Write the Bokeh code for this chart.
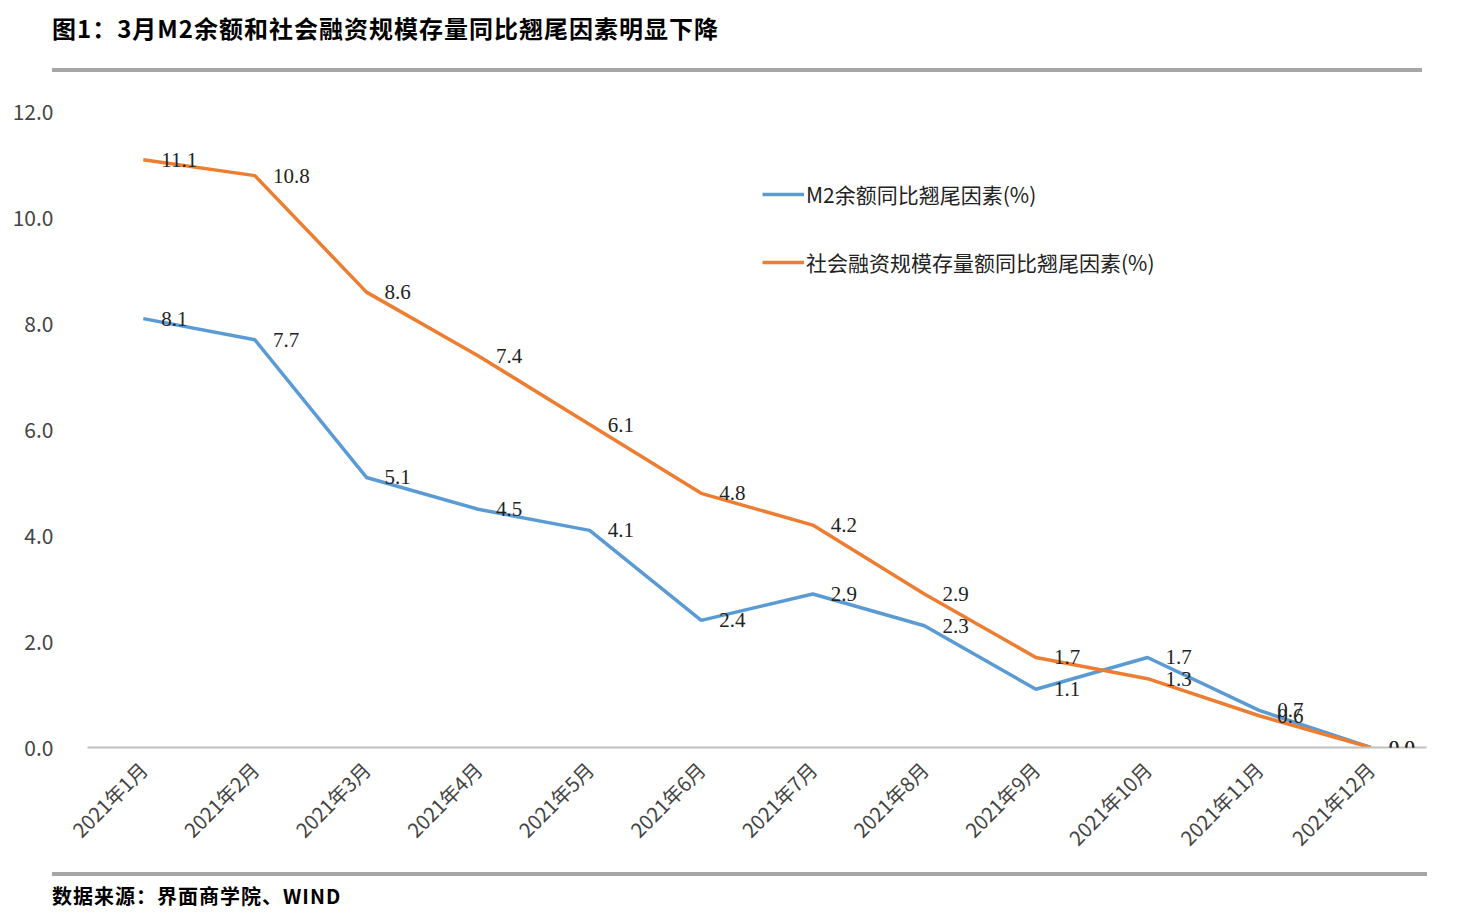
from bokeh.plotting import figure
from bokeh.models import Div, Legend, LegendItem, FixedTicker, CustomJSTickFormatter, ColumnDataSource, LabelSet
from bokeh.layouts import column
from bokeh.embed import file_html
from bokeh.resources import INLINE
import math

months = [f"2021年{i}月" for i in range(1, 13)]
m2 = [8.1, 7.7, 5.1, 4.5, 4.1, 2.4, 2.9, 2.3, 1.1, 1.7, 0.7, 0.0]
tsf = [11.1, 10.8, 8.6, 7.4, 6.1, 4.8, 4.2, 2.9, 1.7, 1.3, 0.6, 0.0]
m2_name = "M2余额同比翘尾因素(%)"
tsf_name = "社会融资规模存量额同比翘尾因素(%)"
FONT = "Noto Sans CJK SC"
BLUE = "#5B9BD5"
ORANGE = "#ED7D31"

title = Div(text="图1：3月M2余额和社会融资规模存量同比翘尾因素明显下降", width=1452, height=67,
            styles={"font-family": FONT, "font-size": "24px", "font-weight": "bold", "color": "#000",
                    "padding": "6px 0 0 0", "box-sizing": "border-box", "letter-spacing": "1px",
                    "border-bottom": "4px solid #A6A6A6", "width": "1370px", "margin-left": "52px"})

p = figure(x_range=months, y_range=(0, 12.2), width=1452, height=790,
           output_backend="svg", toolbar_location=None,
           min_border_left=87, min_border_right=26, min_border_top=24, min_border_bottom=120)
p.outline_line_color = None
p.xgrid.visible = False
p.ygrid.visible = False

r1 = p.line(months, m2, line_color=BLUE, line_width=3.5)
r2 = p.line(months, tsf, line_color=ORANGE, line_width=3.5)
for vals in (m2, tsf):
    src = ColumnDataSource(dict(x=months, y=vals, t=[f"{v:.1f}" for v in vals]))
    p.add_layout(LabelSet(x="x", y="y", text="t", source=src, x_offset=18, text_baseline="middle",
                          text_align="left", text_font=FONT, text_font_size="21px",
                          text_color="#222"))

p.yaxis.ticker = FixedTicker(ticks=[0, 2, 4, 6, 8, 10, 12])
p.yaxis.formatter = CustomJSTickFormatter(code="return tick.toFixed(1);")
p.yaxis.axis_line_color = None
p.yaxis.major_tick_line_color = None
p.yaxis.minor_tick_line_color = None
p.yaxis.major_label_text_font = FONT
p.yaxis.major_label_text_font_size = "21px"
p.yaxis.major_label_text_color = "#444"
p.yaxis.major_label_standoff = 28

p.xaxis.axis_line_color = "#BFBFBF"
p.xaxis.axis_line_width = 2
p.xaxis.major_tick_line_color = None
p.xaxis.major_label_orientation = math.pi / 4
p.xaxis.major_label_text_font = FONT
p.xaxis.major_label_text_font_size = "20px"
p.xaxis.major_label_text_color = "#444"
p.xaxis.major_label_standoff = 12

legend = Legend(items=[LegendItem(label=m2_name, renderers=[r1]),
                       LegendItem(label=tsf_name, renderers=[r2])],
                location=(675, 470), spacing=38, glyph_width=42, label_text_font=FONT,
                label_text_font_size="21px", label_text_color="#222",
                border_line_color=None, background_fill_alpha=0, label_standoff=2)
p.add_layout(legend, "center")

src_div = Div(text="数据来源：界面商学院、WIND", width=1452, height=46,
              styles={"font-family": FONT, "font-size": "20px", "font-weight": "bold", "color": "#000",
                      "border-top": "4px solid #A6A6A6", "margin-left": "52px", "width": "1375px",
                      "padding-top": "6px", "box-sizing": "border-box", "letter-spacing": "1px"})

layout = column(title, p, src_div, spacing=0)
open("out.html", "w").write(file_html(layout, INLINE))
